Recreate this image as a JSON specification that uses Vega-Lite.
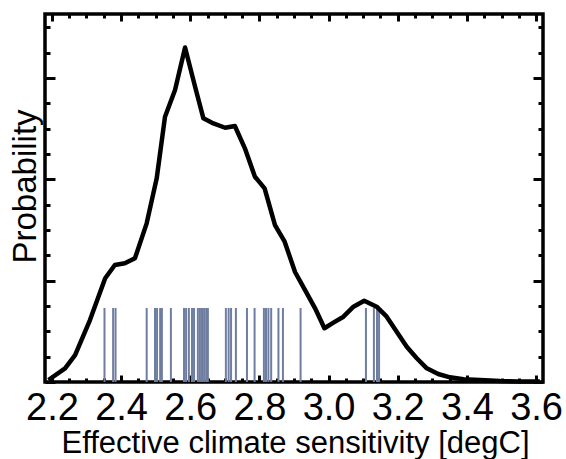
{
  "$schema": "https://vega.github.io/schema/vega-lite/v6.json",
  "width": 498,
  "height": 368,
  "autosize": {"type": "none"},
  "padding": {"left": 45, "top": 14, "right": 23, "bottom": 77},
  "background": "white",
  "config": {
    "view": {"stroke": "black", "strokeWidth": 3.5},
    "font": "Liberation Sans",
    "axis": {"grid": false, "domain": false, "tickColor": "black", "tickWidth": 3, "labelColor": "black", "titleColor": "black", "labelFont": "Liberation Sans", "titleFont": "Liberation Sans", "titleFontWeight": "normal"}
  },
  "datasets": {
    "curve": [
      {"s": 2.19, "p": 0.02}, {"s": 2.238, "p": 0.135}, {"s": 2.267, "p": 0.266}, {"s": 2.31, "p": 0.611},
      {"s": 2.354, "p": 1.023}, {"s": 2.382, "p": 1.154}, {"s": 2.411, "p": 1.171}, {"s": 2.44, "p": 1.22},
      {"s": 2.474, "p": 1.565}, {"s": 2.503, "p": 2.009}, {"s": 2.527, "p": 2.616}, {"s": 2.556, "p": 2.88},
      {"s": 2.585, "p": 3.3}, {"s": 2.614, "p": 2.912}, {"s": 2.638, "p": 2.601}, {"s": 2.667, "p": 2.551},
      {"s": 2.701, "p": 2.508}, {"s": 2.729, "p": 2.525}, {"s": 2.758, "p": 2.305}, {"s": 2.787, "p": 2.025},
      {"s": 2.815, "p": 1.91}, {"s": 2.845, "p": 1.548}, {"s": 2.873, "p": 1.384}, {"s": 2.903, "p": 1.085},
      {"s": 2.932, "p": 0.907}, {"s": 2.961, "p": 0.727}, {"s": 2.988, "p": 0.53}, {"s": 3.014, "p": 0.585},
      {"s": 3.043, "p": 0.644}, {"s": 3.072, "p": 0.743}, {"s": 3.103, "p": 0.802}, {"s": 3.139, "p": 0.743},
      {"s": 3.168, "p": 0.644}, {"s": 3.197, "p": 0.496}, {"s": 3.226, "p": 0.348}, {"s": 3.255, "p": 0.234},
      {"s": 3.284, "p": 0.135}, {"s": 3.317, "p": 0.079}, {"s": 3.351, "p": 0.046}, {"s": 3.39, "p": 0.027},
      {"s": 3.438, "p": 0.02}, {"s": 3.496, "p": 0.01}, {"s": 3.55, "p": 0.006}, {"s": 3.611, "p": 0.005}
    ],
    "rug": [
      {"s": 2.352}, {"s": 2.377}, {"s": 2.384}, {"s": 2.474}, {"s": 2.498}, {"s": 2.504}, {"s": 2.513},
      {"s": 2.518}, {"s": 2.544}, {"s": 2.582}, {"s": 2.588}, {"s": 2.596}, {"s": 2.605}, {"s": 2.611},
      {"s": 2.622}, {"s": 2.628}, {"s": 2.634}, {"s": 2.64}, {"s": 2.646}, {"s": 2.651}, {"s": 2.703},
      {"s": 2.711}, {"s": 2.718}, {"s": 2.732}, {"s": 2.764}, {"s": 2.786}, {"s": 2.813}, {"s": 2.819},
      {"s": 2.826}, {"s": 2.834}, {"s": 2.855}, {"s": 2.868}, {"s": 2.919}, {"s": 3.108}, {"s": 3.131},
      {"s": 3.14}, {"s": 3.146}
    ]
  },
  "resolve": {"axis": {"x": "independent", "y": "independent"}},
  "layer": [
    {
      "data": {"name": "rug"},
      "mark": {"type": "rule", "color": "#6e7da0", "strokeWidth": 2},
      "encoding": {
        "x": {"field": "s", "type": "quantitative", "scale": {"domain": [2.18, 3.62], "nice": false, "zero": false},
              "axis": {"orient": "bottom", "values": [2.2, 2.4, 2.6, 2.8, 3.0, 3.2, 3.4, 3.6], "labels": false, "tickSize": -7, "title": null}},
        "y": {"datum": 0, "type": "quantitative", "scale": {"domain": [0, 3.63], "nice": false, "zero": false},
              "axis": {"orient": "left", "values": [0, 1, 2, 3], "labels": false, "tickSize": -10, "title": null}},
        "y2": {"datum": 0.73}
      }
    },
    {
      "data": {"name": "curve"},
      "mark": {"type": "line", "color": "black", "strokeWidth": 4.5, "strokeJoin": "round"},
      "encoding": {
        "x": {"field": "s", "type": "quantitative", "scale": {"domain": [2.18, 3.62], "nice": false, "zero": false},
              "axis": {"orient": "bottom", "values": [2.2, 2.4, 2.6, 2.8, 3.0, 3.2, 3.4, 3.6], "format": ".1f", "ticks": false,
                       "labelFontSize": 38, "labelBaseline": "alphabetic", "labelPadding": 37.5, "labelFlush": false, "labelOverlap": false, "labelBound": false,
                       "title": "Effective climate sensitivity [degC]", "titleFontSize": 31, "titleBaseline": "alphabetic", "titleY": 70, "titleX": 250}},
        "y": {"field": "p", "type": "quantitative", "scale": {"domain": [0, 3.63], "nice": false, "zero": false},
              "axis": {"orient": "left", "values": [], "ticks": false, "labels": false,
                       "title": "Probability", "titleFontSize": 33, "titleAngle": 270, "titleBaseline": "alphabetic", "titleX": -10, "titleY": 172}}
      }
    },
    {
      "data": {"name": "rug"},
      "mark": {"type": "rule", "opacity": 0},
      "encoding": {
        "x": {"field": "s", "type": "quantitative", "scale": {"domain": [2.18, 3.62], "nice": false, "zero": false},
              "axis": {"orient": "bottom", "values": [2.25, 2.3, 2.35, 2.45, 2.5, 2.55, 2.65, 2.7, 2.75, 2.85, 2.9, 2.95, 3.05, 3.1, 3.15, 3.25, 3.3, 3.35, 3.45, 3.5, 3.55], "labels": false, "tickSize": -4, "title": null}},
        "y": {"datum": 0, "type": "quantitative", "scale": {"domain": [0, 3.63], "nice": false, "zero": false},
              "axis": {"orient": "left", "values": [0.25, 0.5, 0.75, 1.25, 1.5, 1.75, 2.25, 2.5, 2.75, 3.25, 3.5], "labels": false, "tickSize": -5, "title": null}},
        "y2": {"datum": 0.73}
      }
    },
    {
      "data": {"name": "rug"},
      "mark": {"type": "rule", "opacity": 0},
      "encoding": {
        "x": {"field": "s", "type": "quantitative", "scale": {"domain": [2.18, 3.62], "nice": false, "zero": false},
              "axis": {"orient": "top", "values": [2.2, 2.4, 2.6, 2.8, 3.0, 3.2, 3.4, 3.6], "labels": false, "tickSize": -7, "title": null}},
        "y": {"datum": 0, "type": "quantitative", "scale": {"domain": [0, 3.63], "nice": false, "zero": false},
              "axis": {"orient": "right", "values": [0, 1, 2, 3], "labels": false, "tickSize": -10, "title": null}},
        "y2": {"datum": 0.73}
      }
    },
    {
      "data": {"name": "rug"},
      "mark": {"type": "rule", "opacity": 0},
      "encoding": {
        "x": {"field": "s", "type": "quantitative", "scale": {"domain": [2.18, 3.62], "nice": false, "zero": false},
              "axis": {"orient": "top", "values": [2.25, 2.3, 2.35, 2.45, 2.5, 2.55, 2.65, 2.7, 2.75, 2.85, 2.9, 2.95, 3.05, 3.1, 3.15, 3.25, 3.3, 3.35, 3.45, 3.5, 3.55], "labels": false, "tickSize": -4, "title": null}},
        "y": {"datum": 0, "type": "quantitative", "scale": {"domain": [0, 3.63], "nice": false, "zero": false},
              "axis": {"orient": "right", "values": [0.25, 0.5, 0.75, 1.25, 1.5, 1.75, 2.25, 2.5, 2.75, 3.25, 3.5], "labels": false, "tickSize": -5, "title": null}},
        "y2": {"datum": 0.73}
      }
    }
  ]
}
